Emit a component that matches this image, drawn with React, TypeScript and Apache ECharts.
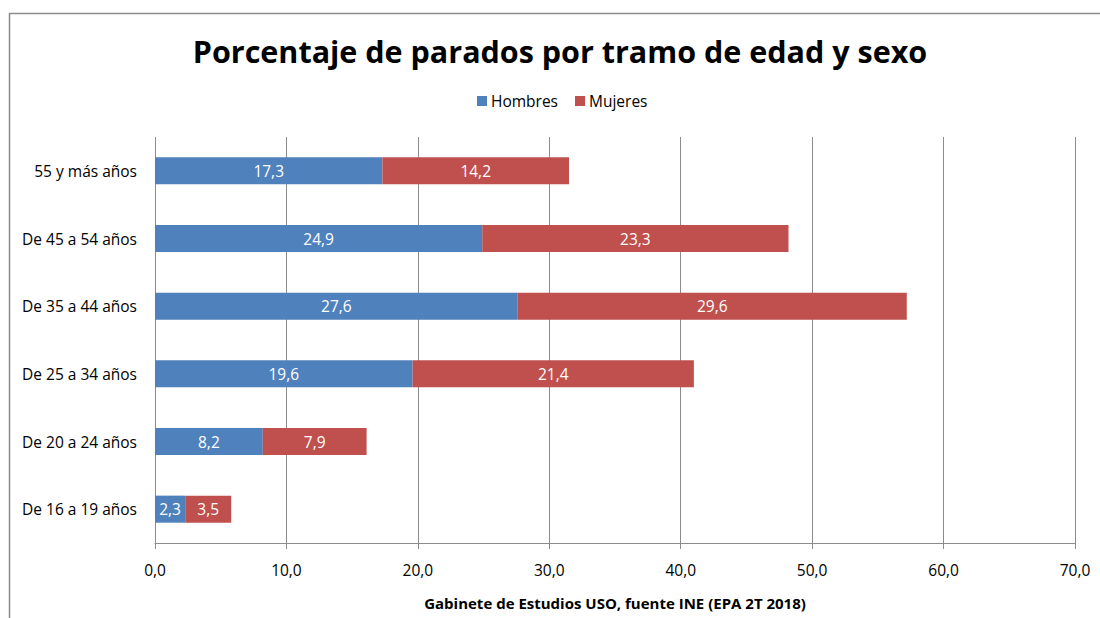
import React, { useEffect, useRef } from "react";
import * as echarts from "echarts";

const categories = ["De 16 a 19 años", "De 20 a 24 años", "De 25 a 34 años", "De 35 a 44 años", "De 45 a 54 años", "55 y más años"];
const hombres = [2.3, 8.2, 19.6, 27.6, 24.9, 17.3];
const mujeres = [3.5, 7.9, 21.4, 29.6, 23.3, 14.2];
const seriesNames = ["Hombres", "Mujeres"];
const titleText = "Porcentaje de parados por tramo de edad y sexo";
const axisNameText = "Gabinete de Estudios USO, fuente INE (EPA 2T 2018)";

const FONT = "'Open Sans', 'Noto Sans', sans-serif";

export default function App() {
  const ref = useRef<HTMLDivElement>(null);
  useEffect(() => {
    const chart = echarts.init(ref.current!, null, { renderer: "svg" });
    const fmt = (p: any) => (p.value as number).toFixed(1).replace(".", ",");
    chart.setOption({
      animation: false,
      backgroundColor: "#fff",
      textStyle: { fontFamily: FONT },
      legend: {
        data: seriesNames,
        top: 93,
        left: 477,
        padding: 0,
        itemWidth: 10,
        itemHeight: 10,
        itemGap: 17,
        icon: "rect",
        textStyle: { fontSize: 15.5, color: "#000", fontFamily: FONT, padding: [0, 0, 0, -1] },
      },
      graphic: [
        {
          type: "rect",
          shape: { x: 9.5, y: 13.5, width: 1200, height: 700 },
          style: { fill: "none", stroke: "#8c8c8c", lineWidth: 1.5 },
          silent: true,
        },
        {
          type: "text",
          x: 560,
          y: 51,
          style: {
            text: titleText,
            textAlign: "center",
            textVerticalAlign: "middle",
            fontSize: 30.5,
            fontWeight: "bold",
            fontFamily: FONT,
            fill: "#000",
          },
        },
      ],
      grid: { left: 155, right: 25, top: 137, bottom: 75, containLabel: false },
      xAxis: {
        type: "value",
        min: 0,
        max: 70,
        interval: 10,
        name: axisNameText,
        nameLocation: "middle",
        nameGap: 52,
        nameTextStyle: { fontSize: 15, fontWeight: "bold", color: "#000", fontFamily: FONT },
        axisLine: { show: true, lineStyle: { color: "#8c8c8c", width: 1 } },
        axisTick: { show: true, length: 6, lineStyle: { color: "#8c8c8c" } },
        axisLabel: {
          fontSize: 15.5,
          color: "#000",
          margin: 19,
          fontFamily: FONT,
          formatter: (v: number) => v.toFixed(1).replace(".", ","),
        },
        splitLine: { show: true, lineStyle: { color: "#8c8c8c", width: 1 } },
      },
      yAxis: {
        type: "category",
        data: categories,
        axisLine: { show: false },
        axisTick: { show: false },
        axisLabel: { fontSize: 15.5, color: "#000", margin: 18, fontFamily: FONT },
      },
      series: [
        {
          name: seriesNames[0],
          type: "bar",
          stack: "total",
          data: hombres,
          barWidth: "40%",
          itemStyle: { color: "#4F81BD" },
          label: { show: true, position: "inside", color: "#fff", fontSize: 15.5, fontFamily: FONT, formatter: fmt },
        },
        {
          name: seriesNames[1],
          type: "bar",
          stack: "total",
          data: mujeres,
          barWidth: "40%",
          itemStyle: { color: "#C0504D" },
          label: { show: true, position: "inside", color: "#fff", fontSize: 15.5, fontFamily: FONT, formatter: fmt },
        },
      ],
    });
    return () => chart.dispose();
  }, []);
  return <div ref={ref} style={{ position: "fixed", left: 0, top: 0, width: 1100, height: 618 }} />;
}
